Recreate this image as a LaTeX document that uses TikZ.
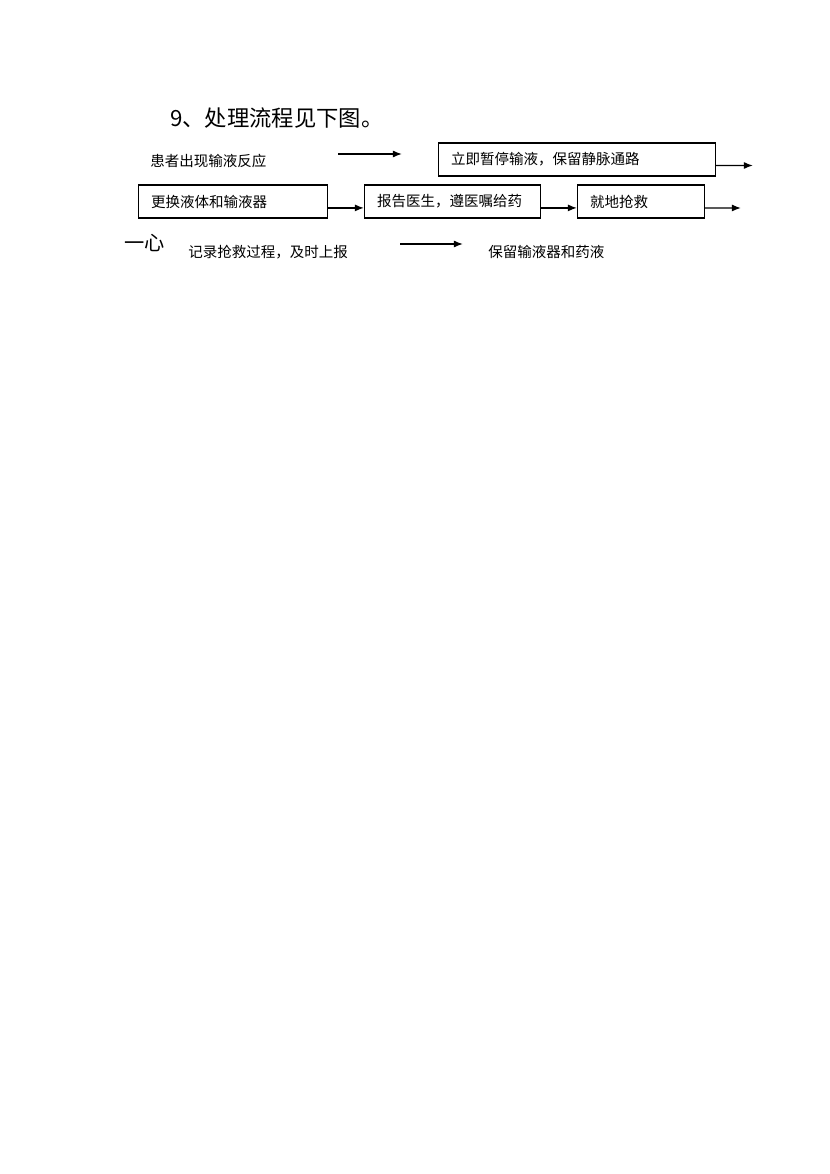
\documentclass[tikz,border=0pt]{standalone}
\usepackage{fontspec}
\setmainfont{Noto Sans CJK SC}
\usetikzlibrary{positioning,arrows.meta,calc}

\tikzset{
  stepbox/.style={draw, line width=0.8pt, anchor=west, inner xsep=9pt, inner ysep=0pt,
    minimum height=23.7pt, align=left, font=\fontsize{10.4}{12}\selectfont},
  plain/.style={anchor=west, inner sep=0pt, font=\fontsize{10.4}{12}\selectfont},
  flow/.style={-{Latex[length=6.5pt,width=5pt]}, line width=0.9pt}
}

\begin{document}
\begin{tikzpicture}[x=0.717pt,y=-0.717pt]

    \useasboundingbox (0,0) rectangle (830,1174);

    % heading
    \node (title) [plain, font=\fontsize{16}{18}\selectfont] at (170,118) {9、处理流程见下图。};

    % first line
    \node (react) [plain] at (150,161) {患者出现输液反应};
    \coordinate (a1s) at (338,154);
    \coordinate (a1e) at (402,154);
    \draw[flow] (a1s) -- (a1e);

    \node (stop) [stepbox, text width=180.6pt] at (438,159.5) {立即暂停输液，保留静脉通路};
    \coordinate (a2e) at (753,165.5);
    \draw[flow] ([yshift=-4.3pt]stop.east) -- (a2e);

    % second line
    \node (change) [stepbox, text width=117.5pt] at (138,201.5) {更换液体和输液器};
    \node (report) [stepbox, text width=108.2pt] at (364,201.5) {报告医生，遵医嘱给药};
    \node (rescue) [stepbox, text width=73.1pt] at (577,201.5) {就地抢救};
    \coordinate (a5e) at (741,208);

    \draw[flow] ([yshift=-4.6pt]change.east) -- ([yshift=-4.6pt]report.west);
    \draw[flow] ([yshift=-4.6pt]report.east) -- ([yshift=-4.6pt]rescue.west);
    \draw[flow] ([yshift=-4.6pt]rescue.east) -- (a5e);

    % third line
    \node (heart) [plain, font=\fontsize{14.5}{16}\selectfont] at (124,243) {一心};
    \node (record) [plain] at (188,252) {记录抢救过程，及时上报};
    \coordinate (a6s) at (400,244);
    \coordinate (a6e) at (463,244);
    \draw[flow] (a6s) -- (a6e);
    \node (keep) [plain] at (488,252) {保留输液器和药液};

\end{tikzpicture}
\end{document}
